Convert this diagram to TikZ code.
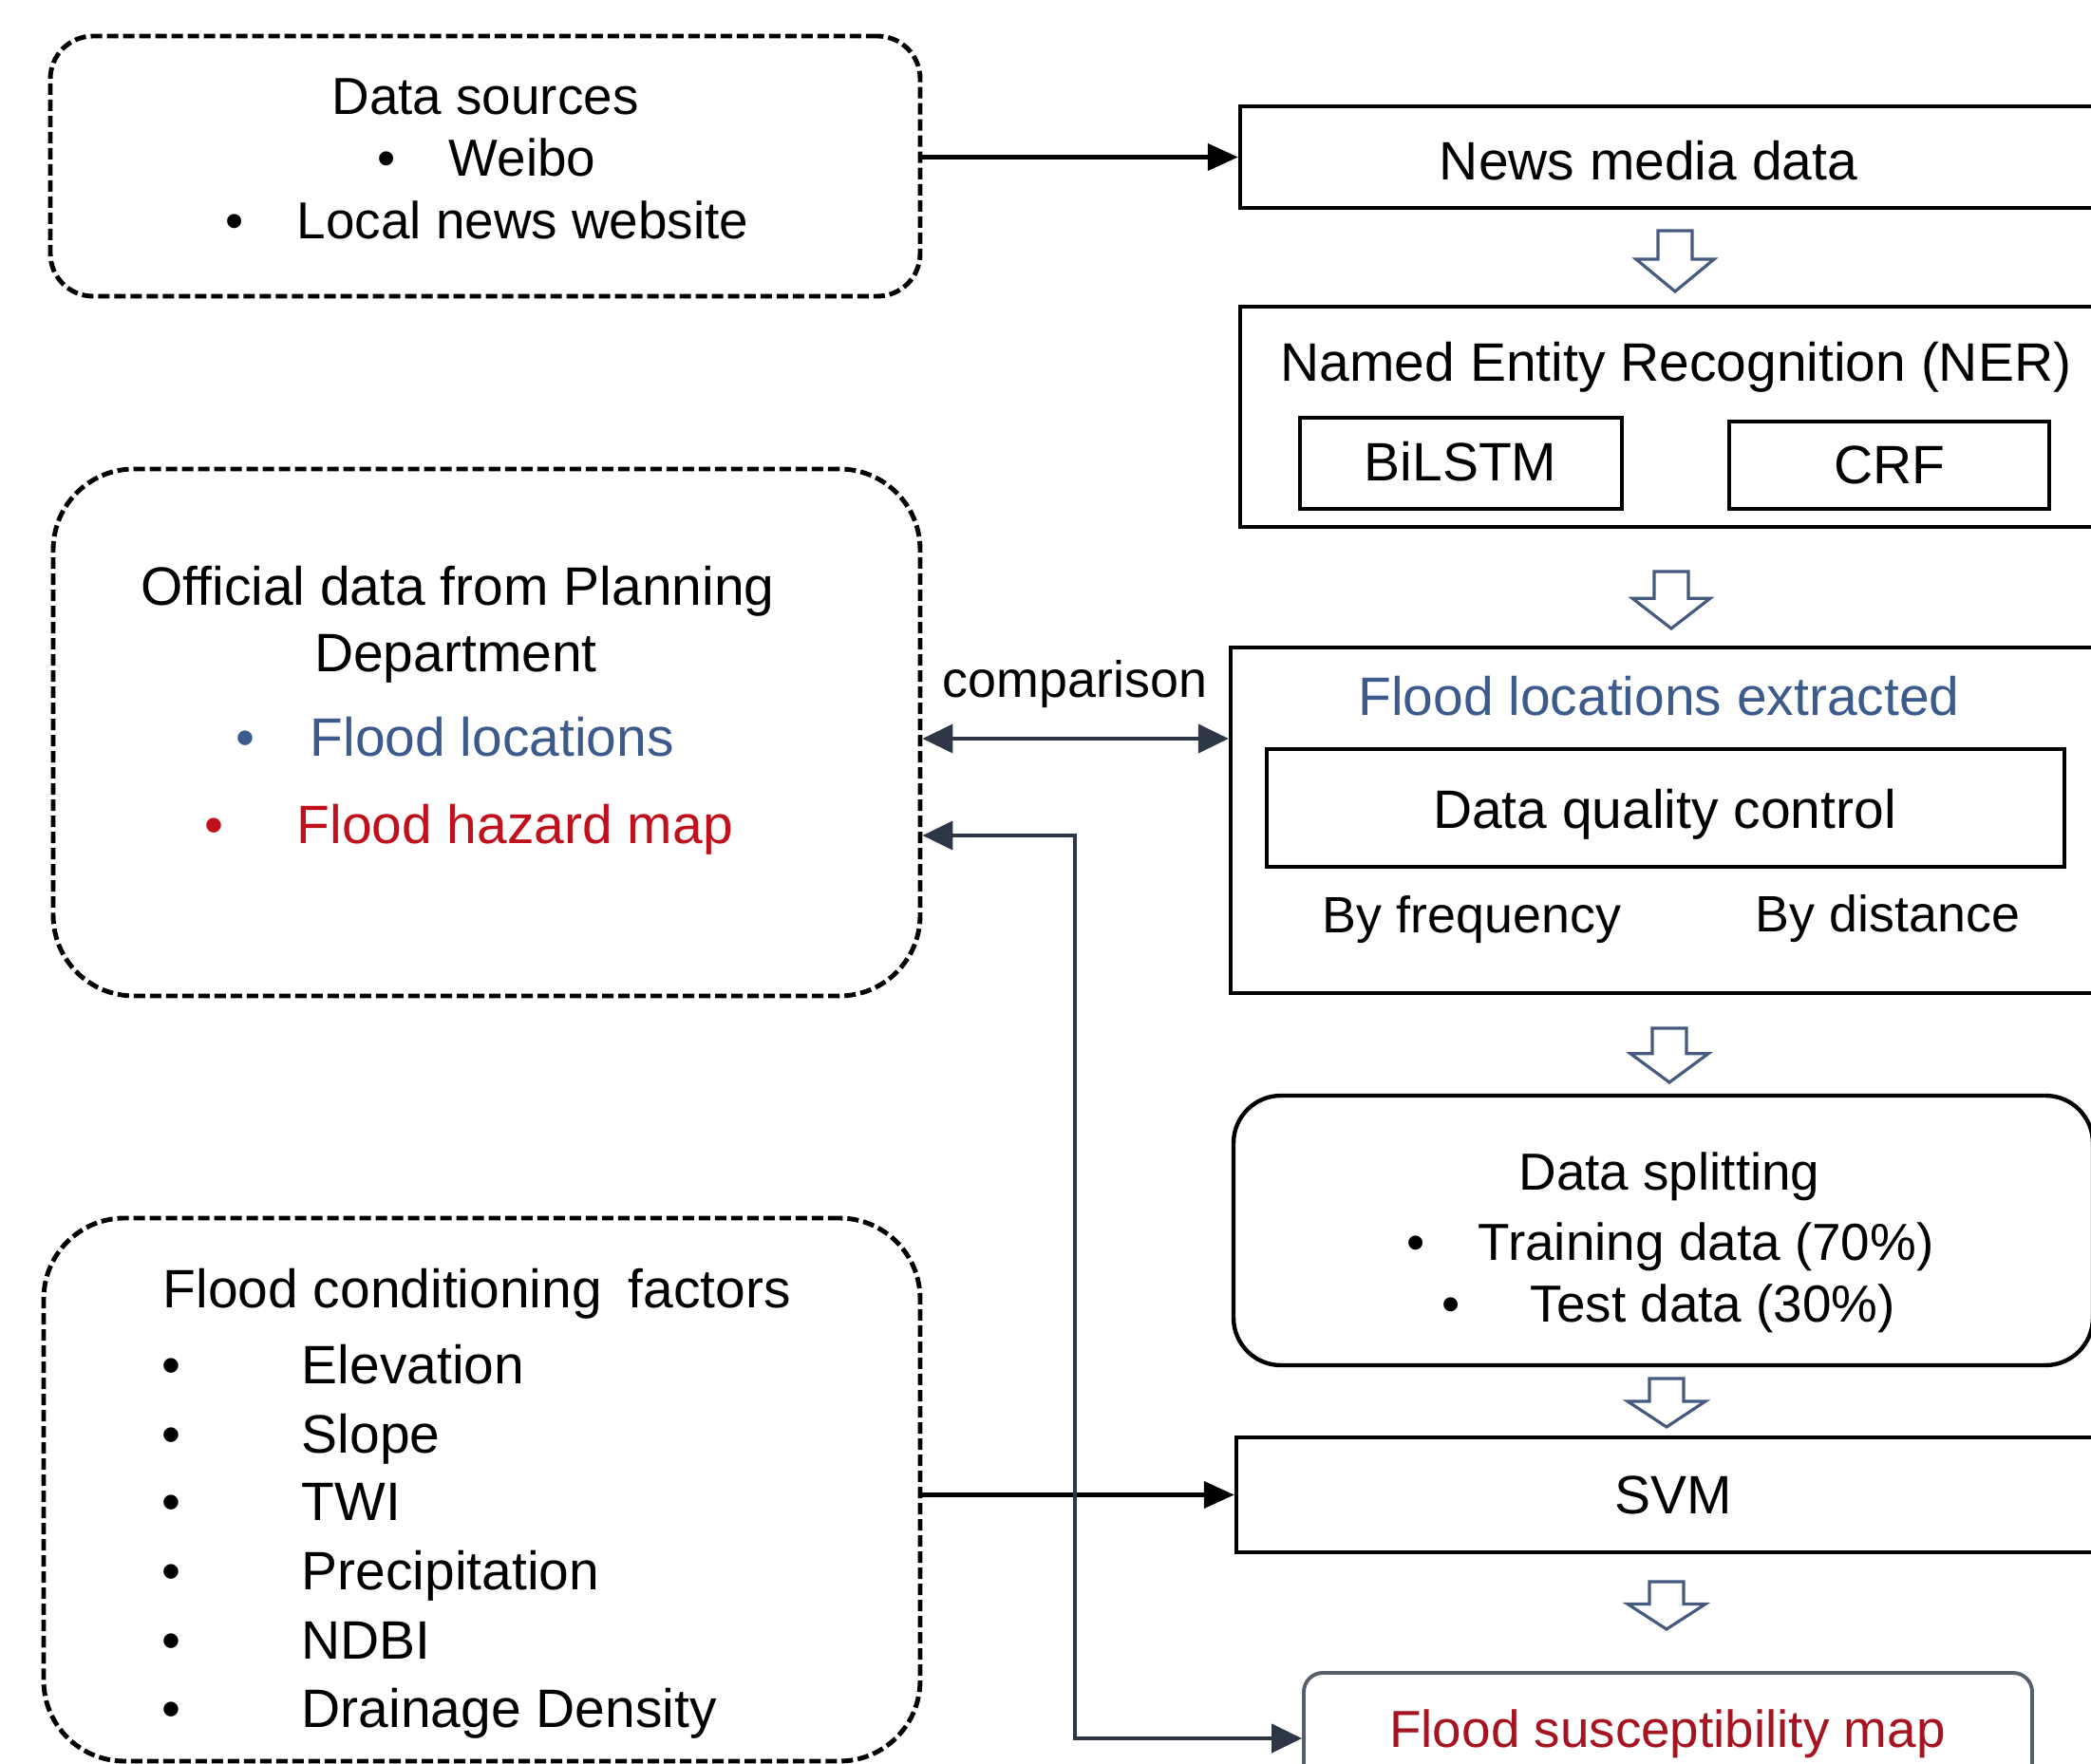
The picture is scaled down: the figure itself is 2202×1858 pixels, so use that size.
\documentclass[tikz,border=0pt]{standalone}
\usepackage{fontspec}
\setmainfont{Liberation Sans}
\usetikzlibrary{arrows.meta,fit,calc}
\definecolor{connc}{RGB}{45,55,70}
\definecolor{harrowc}{RGB}{70,90,128}
\definecolor{fblue}{RGB}{60,90,140}
\definecolor{fred}{RGB}{192,16,28}
\definecolor{fredb}{RGB}{165,20,32}
\tikzset{
  txt/.style={font=\fontsize{16.2}{19}\selectfont, inner sep=0pt},
  midtxt/.style={font=\fontsize{15.6}{18.5}\selectfont, inner sep=0pt},
  smalltxt/.style={font=\fontsize{15.3}{18}\selectfont, inner sep=0pt},
  solidbox/.style={draw, line width=1.25pt, inner sep=0pt},
  dashbox/.style={draw, line width=1.4pt, dash pattern=on 0.12cm off 0.05cm, inner sep=0pt},
  conline/.style={line width=1.2pt, -{Triangle[length=0.32cm,width=0.28cm]}},
  hollow/.style={draw=harrowc, fill=white, line width=0.9pt, line join=miter},
}
\newcommand\hollowdown[3]{%
  \pgfmathsetmacro\hh{#3*0.53}%
  \draw[hollow] (#1-18,#2) -- (#1+18,#2) -- (#1+18,#2+#3-\hh) -- (#1+41,#2+#3-\hh)
    -- (#1,#2+#3) -- (#1-41,#2+#3-\hh) -- (#1-18,#2+#3-\hh) -- cycle;}
\begin{document}
\begin{tikzpicture}[x=0.01cm, y=-0.01cm]
\useasboundingbox (0,0) rectangle (2202,1858);
\clip (0,0) rectangle (2202,1858);
\fill[white] (0,0) rectangle (2202,1858);

% ---------- left dashed boxes ----------
\node[dashbox, rounded corners=0.45cm, fit={(53,38) (969,312)}] (ds) {};
\node[midtxt, anchor=base] (dsT) at (511,121) {Data sources};
\node[midtxt, anchor=base] (dsB1) at (407,186) {•};
\node[midtxt, anchor=base west] (dsI1) at (472,186) {Weibo};
\node[midtxt, anchor=base] (dsB2) at (247,252) {•};
\node[midtxt, anchor=base west] (dsI2) at (312,252) {Local news website};

\node[dashbox, rounded corners=0.85cm, fit={(56,494) (969,1049)}] (off) {};
\node[txt, anchor=base] (offT1) at (482,638) {Official data from Planning};
\node[txt, anchor=base] (offT2) at (480,708) {Department};
\node[txt, anchor=base, text=fblue] (offB1) at (258,797) {•};
\node[txt, anchor=base west, text=fblue] (offI1) at (326,797) {Flood locations};
\node[txt, anchor=base, text=fred] (offB2) at (225,889) {•};
\node[txt, anchor=base west, text=fred] (offI2) at (312,889) {Flood hazard map};

\node[dashbox, rounded corners=0.85cm, fit={(46,1283) (969,1855)}] (fac) {};
\node[txt, anchor=base west] (facT) at (171,1377) {Flood conditioning\hspace{0.12cm} factors};
\foreach \yy/\lab [count=\i] in {1457/Elevation,1530/Slope,1601/TWI,1674/Precipitation,1747/NDBI,1819/Drainage Density}{
  \node[txt, anchor=base] (facB\i) at (180,\yy) {•};
  \node[txt, anchor=base west] (facI\i) at (317,\yy) {\lab};
}

% ---------- right column ----------
\node[solidbox, fit={(1306,112) (2240,219)}] (news) {};
\node[txt, anchor=base] (newsT) at (1736,190) {News media data};

\node[solidbox, fit={(1306,323) (2240,555)}] (ner) {};
\node[txt, anchor=base] (nerT) at (1765,402) {Named Entity Recognition (NER)};
\node[solidbox, fit={(1369,440) (1708,536)}] (bilstm) {};
\node[txt, anchor=base] (bilstmT) at (1538,507) {BiLSTM};
\node[solidbox, fit={(1821,444) (2158,536)}] (crf) {};
\node[txt, anchor=base] (crfT) at (1990,510) {CRF};

\node[solidbox, fit={(1296,682) (2240,1046)}] (flood) {};
\node[txt, anchor=base, text=fblue] (floodT) at (1747,754) {Flood locations extracted};
\node[solidbox, fit={(1334,789) (2174,913)}] (dqc) {};
\node[txt, anchor=base] (dqcT) at (1753,872) {Data quality control};
\node[smalltxt, anchor=base] (byf) at (1550,982) {By frequency};
\node[smalltxt, anchor=base] (byd) at (1988,981) {By distance};

\node[solidbox, rounded corners=0.5cm, fit={(1299,1154) (2204,1438)}] (split) {};
\node[midtxt, anchor=base] (splitT) at (1758,1253) {Data splitting};
\node[midtxt, anchor=base] (splitB1) at (1491,1327) {•};
\node[midtxt, anchor=base west] (splitI1) at (1556,1327) {Training data (70\%)};
\node[midtxt, anchor=base] (splitB2) at (1528,1392) {•};
\node[midtxt, anchor=base west] (splitI2) at (1611,1392) {Test data (30\%)};

\node[solidbox, fit={(1302,1514) (2240,1635)}] (svm) {};
\node[txt, anchor=base] (svmT) at (1762,1594) {SVM};

\node[draw=connc!80, line width=1.1pt, rounded corners=0.2cm, inner sep=0pt, fit={(1373,1762) (2140,1900)}] (fsm) {};
\node[midtxt, anchor=base, text=fredb] (fsmT) at (1756,1840) {Flood susceptibility map};

% ---------- hollow flow arrows ----------
\hollowdown{1764}{243}{64}
\hollowdown{1760}{602}{60}
\hollowdown{1758}{1083}{57}
\hollowdown{1755}{1452}{51}
\hollowdown{1755}{1666}{50}

% ---------- connectors ----------
\draw[conline] (ds.east |- news.west) -- (news.west);
\draw[conline] (fac.east |- svm.west) -- (svm.west);

\coordinate (cmp) at (1132,778);
\draw[conline, connc, {Triangle[length=0.32cm,width=0.30cm]}-{Triangle[length=0.32cm,width=0.30cm]}]
  (off.east |- cmp) -- (flood.west |- cmp);
\node[smalltxt, anchor=base] (cmpT) at (1132,735) {comparison};

\coordinate (hz) at (1132,880);
\draw[conline, connc, {Triangle[length=0.32cm,width=0.30cm]}-{Triangle[length=0.32cm,width=0.30cm]}]
  (off.east |- hz) -- (hz) |- (fsm.west);
\end{tikzpicture}
\end{document}
